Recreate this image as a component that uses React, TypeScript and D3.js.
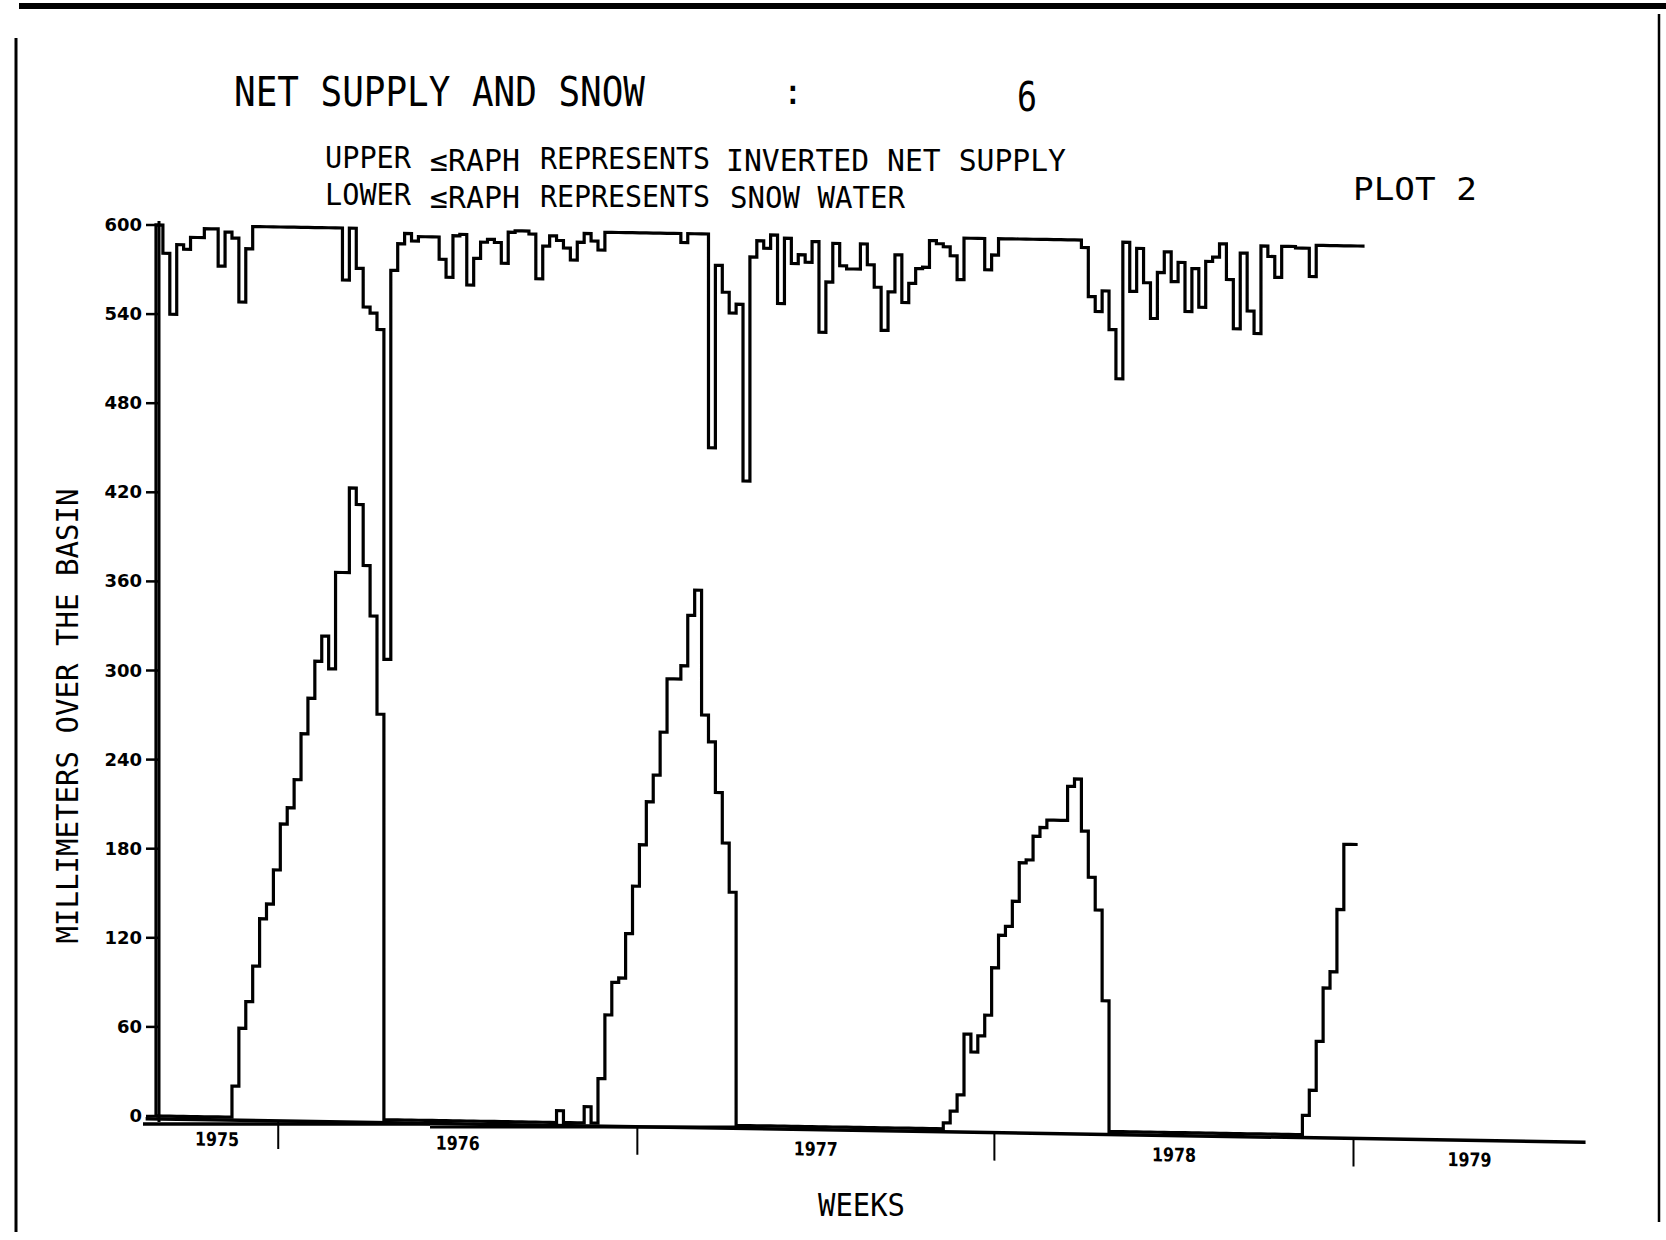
import * as d3 from 'd3';

// weekly values, week 0 = start of record (autumn 1975)
// upper graph: inverted net supply (mm)
const upperSupply = [
  600, 581, 540, 587, 584, 592, 592, 598, 598, 573,
  596, 592, 549, 585, 600, 600, 600, 600, 600, 600,
  600, 600, 600, 600, 600, 600, 600, 565, 600, 573,
  547, 543, 532, 310, 572, 590, 597, 592, 595, 595,
  595, 580, 568, 596, 597, 563, 581, 592, 594, 592,
  578, 599, 600, 600, 598, 568, 590, 597, 594, 589,
  581, 593, 599, 594, 588, 600, 600, 600, 600, 600,
  600, 600, 600, 600, 600, 600, 594, 600, 600, 600,
  456, 579, 561, 547, 553, 434, 585, 596, 591, 600,
  554, 598, 581, 587, 582, 596, 535, 569, 595, 580,
  578, 578, 595, 581, 566, 537, 563, 588, 556, 569,
  579, 580, 598, 596, 594, 588, 572, 600, 600, 600,
  579, 589, 600, 600, 600, 600, 600, 600, 600, 600,
  600, 600, 600, 600, 595, 562, 552, 566, 540, 507,
  599, 566, 595, 572, 548, 579, 593, 573, 586, 553,
  582, 556, 587, 590, 599, 575, 542, 593, 554, 539,
  598, 591, 577, 598, 598, 597, 597, 578, 599, 599,
  599, 599, 599, 599, 599,
];

// lower graph: snow water (mm)
const snowWater = [
  0, 0, 0, 0, 0, 0, 0, 0, 0, 0,
  0, 21, 60, 78, 102, 134, 144, 167, 198, 209,
  228, 259, 283, 308, 325, 303, 368, 368, 425, 414,
  373, 339, 273, 0, 0, 0, 0, 0, 0, 0,
  0, 0, 0, 0, 0, 0, 0, 0, 0, 0,
  0, 0, 0, 0, 0, 0, 0, 0, 8, 0,
  0, 0, 11, 0, 30, 73, 95, 98, 128, 160,
  188, 217, 235, 264, 300, 300, 309, 343, 360, 276,
  258, 224, 190, 157, 0, 0, 0, 0, 0, 0,
  0, 0, 0, 0, 0, 0, 0, 0, 0, 0,
  0, 0, 0, 0, 0, 0, 0, 0, 0, 0,
  0, 0, 0, 0, 4, 12, 23, 64, 52, 63,
  77, 109, 131, 137, 154, 180, 182, 198, 204, 209,
  209, 209, 232, 237, 202, 171, 149, 88, 0, 0,
  0, 0, 0, 0, 0, 0, 0, 0, 0, 0,
  0, 0, 0, 0, 0, 0, 0, 0, 0, 0,
  0, 0, 0, 0, 0, 0, 13, 30, 63, 99,
  110, 152, 196, 196,
];

const yTicks = [0, 60, 120, 180, 240, 300, 360, 420, 480, 540, 600];
const yearLabels = ['1975', '1976', '1977', '1978', '1979'];
// week positions of the year boundaries
const yearBreaks = [17.7, 69.7, 121.4, 173.4];
const weekDomain = [0, 207];

const W = 1666;
const H = 1240;
const AXIS_X = 159;
const SKEW = (Math.atan(0.0163) * 180) / Math.PI; // scanned page is slightly sheared

const plotFont = '"DejaVu Sans Mono", monospace';

const x = d3.scaleLinear().domain(weekDomain).range([156, 156 + 207 * 6.906]);
const y = d3.scaleLinear().domain([0, 600]).range([1116, 225]);

type Pt = { w: number; v: number };

const stepLine = d3
  .line<Pt>()
  .x((d) => x(d.w))
  .y((d) => y(d.v))
  .curve(d3.curveStepAfter);

function toSteps(values: number[]): Pt[] {
  const pts = values.map((v, i) => ({ w: i, v }));
  pts.push({ w: values.length, v: values[values.length - 1] });
  return pts;
}

export default function App() {
  // pen comes up from the origin before the upper trace starts
  const upperPts = [{ w: 0, v: 0 }, ...toSteps(upperSupply)];
  const snowPts = toSteps(snowWater);
  const bounds = [weekDomain[0], ...yearBreaks, weekDomain[1]];
  const y0 = y(0);

  return (
    <div style={{ position: 'absolute', left: 0, top: 0 }}>
      <svg width={W} height={H} viewBox={`0 0 ${W} ${H}`} style={{ display: 'block', background: '#fff' }}>
        {/* page border from the scan */}
        <rect x={19} y={3} width={W - 19} height={6} fill="#000" />
        <line x1={16} y1={38} x2={16} y2={1232} stroke="#000" strokeWidth={3} />
        <line x1={1659} y1={14} x2={1659} y2={1222} stroke="#000" strokeWidth={2.5} />

        {/* titles */}
        <g fontFamily={plotFont} fill="#000">
          <text x={234} y={106} fontSize={40} textLength={411} lengthAdjust="spacingAndGlyphs">
            NET SUPPLY AND SNOW
          </text>
          <text x={782} y={104} fontSize={36}>:</text>
          <text x={1017} y={111} fontSize={40} textLength={20} lengthAdjust="spacingAndGlyphs">6</text>

          <text x={325} y={168} fontSize={31} textLength={86} lengthAdjust="spacingAndGlyphs">UPPER</text>
          <text x={430} y={171} fontSize={31} textLength={90} lengthAdjust="spacingAndGlyphs">≤RAPH</text>
          <text x={540} y={169} fontSize={31} textLength={170} lengthAdjust="spacingAndGlyphs">REPRESENTS</text>
          <text x={726} y={171} fontSize={31} textLength={340} lengthAdjust="spacingAndGlyphs">INVERTED NET SUPPLY</text>

          <text x={325} y={205} fontSize={31} textLength={86} lengthAdjust="spacingAndGlyphs">LOWER</text>
          <text x={430} y={208} fontSize={31} textLength={90} lengthAdjust="spacingAndGlyphs">≤RAPH</text>
          <text x={540} y={207} fontSize={31} textLength={170} lengthAdjust="spacingAndGlyphs">REPRESENTS</text>
          <text x={730} y={208} fontSize={31} textLength={175} lengthAdjust="spacingAndGlyphs">SNOW WATER</text>

          <text x={1353} y={200} fontSize={32} textLength={124} lengthAdjust="spacingAndGlyphs">PLOT  2</text>

          <text x={818} y={1216} fontSize={32} textLength={87} lengthAdjust="spacingAndGlyphs">WEEKS</text>

          <text
            transform={`translate(78,716) rotate(-90)`}
            textAnchor="middle"
            fontSize={30}
            textLength={455}
            lengthAdjust="spacingAndGlyphs"
          >
            MILLIMETERS OVER THE BASIN
          </text>
        </g>

        {/* y axis */}
        <line x1={AXIS_X} y1={y(600) - 4} x2={AXIS_X} y2={y0 + 6} stroke="#000" strokeWidth={3} />
        {yTicks.map((t) => (
          <g key={t}>
            <line x1={146} x2={AXIS_X} y1={y(t)} y2={y(t)} stroke="#000" strokeWidth={2.5} />
            <text
              x={142}
              y={y(t) + 6}
              textAnchor="end"
              fontFamily='"DejaVu Sans", sans-serif'
              fontWeight="bold"
              fontSize={18}
            >
              {t}
            </text>
          </g>
        ))}

        {/* unsheared piece of the base line, doubled under the first two years */}
        <line x1={143} x2={430} y1={y0 + 8} y2={y0 + 8} stroke="#000" strokeWidth={3.5} />
        <line x1={430} x2={745} y1={y0 + 11} y2={y0 + 11} stroke="#000" strokeWidth={3} />

        {/* sheared plotting area */}
        <g transform={`translate(${AXIS_X},0) skewY(${SKEW}) translate(${-AXIS_X},0)`}>
          <line x1={x(-1.5)} x2={x(207)} y1={y0 + 3} y2={y0 + 3} stroke="#000" strokeWidth={3.5} />
          {yearBreaks.map((b) => (
            <line key={b} x1={x(b)} x2={x(b)} y1={y0 + 3} y2={y0 + 31} stroke="#000" strokeWidth={2} />
          ))}
          {yearLabels.map((lab, i) => (
            <text
              key={lab}
              x={(x(bounds[i]) + x(bounds[i + 1])) / 2}
              y={y0 + 29}
              textAnchor="middle"
              fontFamily='"DejaVu Sans Condensed", "DejaVu Sans", sans-serif'
              fontWeight="bold"
              fontSize={19}
              textLength={44}
              lengthAdjust="spacingAndGlyphs"
            >
              {lab}
            </text>
          ))}

          <path d={stepLine(snowPts) ?? ''} fill="none" stroke="#000" strokeWidth={3.2} />
          <path d={stepLine(upperPts) ?? ''} fill="none" stroke="#000" strokeWidth={3.2} />
        </g>
      </svg>
    </div>
  );
}
